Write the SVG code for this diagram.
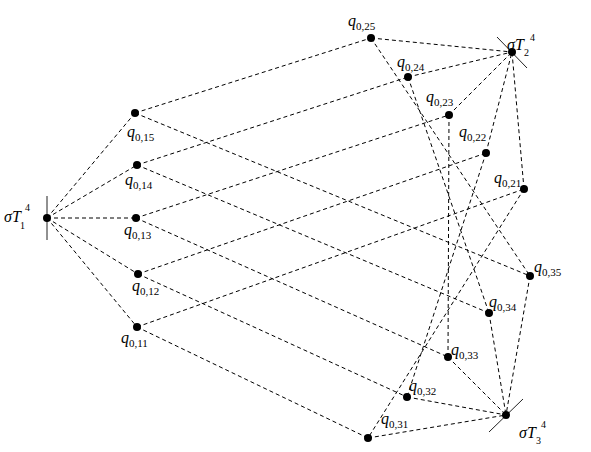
<svg xmlns="http://www.w3.org/2000/svg" width="591" height="452" viewBox="0 0 591 452">
<style>
.e{stroke:#000;stroke-width:1;stroke-dasharray:4,3;fill:none}
.tick{stroke:#222;stroke-width:1;fill:none}
.dot{fill:#000}
text{font-family:"Liberation Serif","Times New Roman",serif;fill:#000}
.q{font-size:16px;font-style:italic}
.sub{font-size:11px;font-style:normal}
.s{font-size:16px;font-style:italic}
.ss{font-size:10px;font-style:normal}
</style>
<rect width="591" height="452" fill="#fff"/>
<g id="connectors">
<line class="e" x1="47" y1="218" x2="135" y2="113"/>
<line class="e" x1="47" y1="218" x2="137" y2="165"/>
<line class="e" x1="47" y1="218" x2="136" y2="218"/>
<line class="e" x1="47" y1="218" x2="138" y2="274"/>
<line class="e" x1="47" y1="218" x2="137" y2="327"/>
<line class="e" x1="135" y1="113" x2="371" y2="38"/>
<line class="e" x1="137" y1="165" x2="408" y2="77"/>
<line class="e" x1="136" y1="218" x2="449" y2="115"/>
<line class="e" x1="138" y1="274" x2="486" y2="153"/>
<line class="e" x1="137" y1="327" x2="524" y2="189"/>
<line class="e" x1="135" y1="113" x2="530" y2="276"/>
<line class="e" x1="137" y1="165" x2="489" y2="313"/>
<line class="e" x1="136" y1="218" x2="448" y2="357"/>
<line class="e" x1="138" y1="274" x2="407" y2="397"/>
<line class="e" x1="137" y1="327" x2="368" y2="438"/>
<line class="e" x1="371" y1="38" x2="512" y2="52"/>
<line class="e" x1="408" y1="77" x2="512" y2="52"/>
<line class="e" x1="449" y1="115" x2="512" y2="52"/>
<line class="e" x1="486" y1="153" x2="512" y2="52"/>
<line class="e" x1="524" y1="189" x2="512" y2="52"/>
<line class="e" x1="530" y1="276" x2="506" y2="415"/>
<line class="e" x1="489" y1="313" x2="506" y2="415"/>
<line class="e" x1="448" y1="357" x2="506" y2="415"/>
<line class="e" x1="407" y1="397" x2="506" y2="415"/>
<line class="e" x1="368" y1="438" x2="506" y2="415"/>
<line class="e" x1="371" y1="38" x2="530" y2="276"/>
<line class="e" x1="408" y1="77" x2="489" y2="313"/>
<line class="e" x1="449" y1="115" x2="448" y2="357"/>
<line class="e" x1="486" y1="153" x2="407" y2="397"/>
<line class="e" x1="524" y1="189" x2="368" y2="438"/>
</g>
<g id="T1">
<line class="tick" x1="47" y1="196" x2="47" y2="240" stroke="#000"/>
<circle class="dot" cx="47" cy="218" r="4"/>
<text class="s" x="4" y="222">σT</text>
<text class="ss" x="20" y="229">1</text>
<text class="ss" x="25" y="211">4</text>
</g>
<g id="T2">
<line class="tick" x1="497" y1="37" x2="527" y2="68"/>
<circle class="dot" cx="512" cy="52" r="4"/>
<text class="s" x="507" y="50">σT</text>
<text class="ss" x="524" y="56">2</text>
<text class="ss" x="530" y="41">4</text>
</g>
<g id="T3">
<line class="tick" x1="489" y1="432" x2="523" y2="399"/>
<circle class="dot" cx="506" cy="415" r="4"/>
<text class="s" x="519" y="438">σT</text>
<text class="ss" x="536" y="444">3</text>
<text class="ss" x="541" y="428">4</text>
</g>
<g id="q015"><circle class="dot" cx="135" cy="113" r="4"/><text class="q" x="127" y="137">q<tspan class="sub" dy="4">0,15</tspan></text></g>
<g id="q014"><circle class="dot" cx="137" cy="165" r="4"/><text class="q" x="125" y="185">q<tspan class="sub" dy="4">0,14</tspan></text></g>
<g id="q013"><circle class="dot" cx="136" cy="218" r="4"/><text class="q" x="124" y="235">q<tspan class="sub" dy="4">0,13</tspan></text></g>
<g id="q012"><circle class="dot" cx="138" cy="274" r="4"/><text class="q" x="132" y="291">q<tspan class="sub" dy="4">0,12</tspan></text></g>
<g id="q011"><circle class="dot" cx="137" cy="327" r="4"/><text class="q" x="121" y="343">q<tspan class="sub" dy="4">0,11</tspan></text></g>
<g id="q025"><circle class="dot" cx="371" cy="38" r="4"/><text class="q" x="348" y="26">q<tspan class="sub" dy="4">0,25</tspan></text></g>
<g id="q024"><circle class="dot" cx="408" cy="77" r="4"/><text class="q" x="397" y="67">q<tspan class="sub" dy="4">0,24</tspan></text></g>
<g id="q023"><circle class="dot" cx="449" cy="115" r="4"/><text class="q" x="426" y="102">q<tspan class="sub" dy="4">0,23</tspan></text></g>
<g id="q022"><circle class="dot" cx="486" cy="153" r="4"/><text class="q" x="459" y="137">q<tspan class="sub" dy="4">0,22</tspan></text></g>
<g id="q021"><circle class="dot" cx="524" cy="189" r="4"/><text class="q" x="494" y="183">q<tspan class="sub" dy="4">0,21</tspan></text></g>
<g id="q035"><circle class="dot" cx="530" cy="276" r="4"/><text class="q" x="534" y="272">q<tspan class="sub" dy="4">0,35</tspan></text></g>
<g id="q034"><circle class="dot" cx="489" cy="313" r="4"/><text class="q" x="489" y="307">q<tspan class="sub" dy="4">0,34</tspan></text></g>
<g id="q033"><circle class="dot" cx="448" cy="357" r="4"/><text class="q" x="451" y="355">q<tspan class="sub" dy="4">0,33</tspan></text></g>
<g id="q032"><circle class="dot" cx="407" cy="397" r="4"/><text class="q" x="409" y="391">q<tspan class="sub" dy="4">0,32</tspan></text></g>
<g id="q031"><circle class="dot" cx="368" cy="438" r="4"/><text class="q" x="381" y="424">q<tspan class="sub" dy="4">0,31</tspan></text></g>
</svg>
